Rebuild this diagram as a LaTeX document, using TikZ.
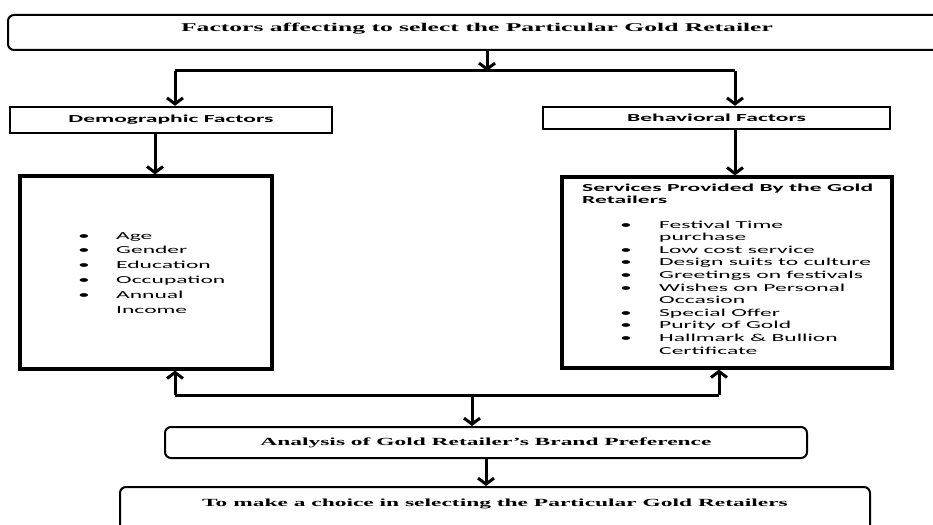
\documentclass[tikz,border=0pt]{standalone}
\usepackage{fontspec}
\setmainfont{Liberation Serif}[FakeStretch=2.15]
\newfontfamily\carl{Carlito}[FakeStretch=2.2]
\usetikzlibrary{arrows.meta}

\begin{document}
\begin{tikzpicture}[x=1pt,y=-1pt,
  rbox/.style={draw,line width=2pt,rounded corners=6pt,inner sep=0pt},
  sbox/.style={draw,line width=2.4pt,inner sep=0pt},
  bigbox/.style={draw,line width=3.2pt,inner sep=0pt},
  arr/.style={line width=3pt,-{Straight Barb[length=6pt,width=16pt]}},
  serif/.style={font=\fontsize{10.9}{12}\selectfont\bfseries,inner sep=0pt},
  head/.style={font=\carl\fontsize{10.7}{12}\selectfont\bfseries,inner sep=0pt},
  item/.style={font=\carl\fontsize{10.7}{12.6}\selectfont,inner sep=0pt}]
\useasboundingbox (0,0) rectangle (933,524);
\clip (0,0) rectangle (933,524);
\fill[white] (0,0) rectangle (933,524);
% top box
\node[rbox,minimum width=967pt,minimum height=35pt] (top) at (491.5,32.5) {};
\node[serif,font=\fontsize{11.9}{14}\selectfont\bfseries,anchor=base] (toptxt) at (477,32) {Factors affecting to select the Particular Gold Retailer};
\coordinate (split) at (487,71);
\coordinate (jl) at (175,71);
\coordinate (jr) at (735,71);
% factor boxes
\node[sbox,head,minimum width=322pt,minimum height=26pt] (demo) at (171,120) {Demographic Factors};
\node[sbox,head,minimum width=347pt,minimum height=22pt] (behav) at (716.5,118) {Behavioral Factors};
\draw[arr] (top.south -| split) -- (split);
\draw[line width=3pt] (jl) -- (jr);
\draw[arr] (jl) -- (jl |- demo.north);
\draw[arr] (jr) -- (jr |- behav.north);
% detail boxes
\node[bigbox,minimum width=252pt,minimum height=193pt] (left) at (146,272.5) {};
\node[bigbox,minimum width=330pt,minimum height=191pt] (right) at (727,272.5) {};
\draw[arr] ([xshift=-16pt]demo.south) -- ([xshift=-16pt]demo.south |- left.north);
\draw[arr] ([xshift=18.5pt]behav.south) -- ([xshift=18.5pt]behav.south |- right.north);
\node[item,font=\carl\fontsize{10.7}{14.8}\selectfont,anchor=base west] (demolist) at (78,239) {%
\begin{tabular}[t]{@{}p{38pt}@{}l@{}}
\textbullet & Age\\
\textbullet & Gender\\
\textbullet & Education\\
\textbullet & Occupation\\
\textbullet & Annual\\
 & Income
\end{tabular}};
\node[head,align=left,anchor=base west] (servhead) at (582,203) {Services Provided By the Gold\\Retailers};
\node[item,anchor=base west] (servlist) at (620,228) {%
\begin{tabular}[t]{@{}p{39pt}@{}l@{}}
\textbullet & Festival Time\\
 & purchase\\
\textbullet & Low cost service\\
\textbullet & Design suits to culture\\
\textbullet & Greetings on festivals\\
\textbullet & Wishes on Personal\\
 & Occasion\\
\textbullet & Special Offer\\
\textbullet & Purity of Gold\\
\textbullet & Hallmark \& Bullion\\
 & Certificate
\end{tabular}};
% analysis
\coordinate (ml) at (175,395);
\coordinate (mr) at (719,395);
\coordinate (mc) at (472,395);
\node[rbox,serif,minimum width=642pt,minimum height=31pt] (analysis) at (486,442.5) {Analysis of Gold Retailer's Brand Preference};
\draw[line width=3pt] (ml) -- (mr);
\draw[arr] (ml) -- (ml |- left.south);
\draw[arr] (mr) -- (mr |- right.south);
\draw[arr] (mc) -- (mc |- analysis.north);
% final choice
\node[rbox,minimum width=750pt,minimum height=58pt] (final) at (495,516) {};
\node[serif,anchor=base] (finaltxt) at (495,506) {To make a choice in selecting the Particular Gold Retailers};
\draw[arr] (analysis.south) -- (analysis.south |- final.north);
\end{tikzpicture}
\end{document}
